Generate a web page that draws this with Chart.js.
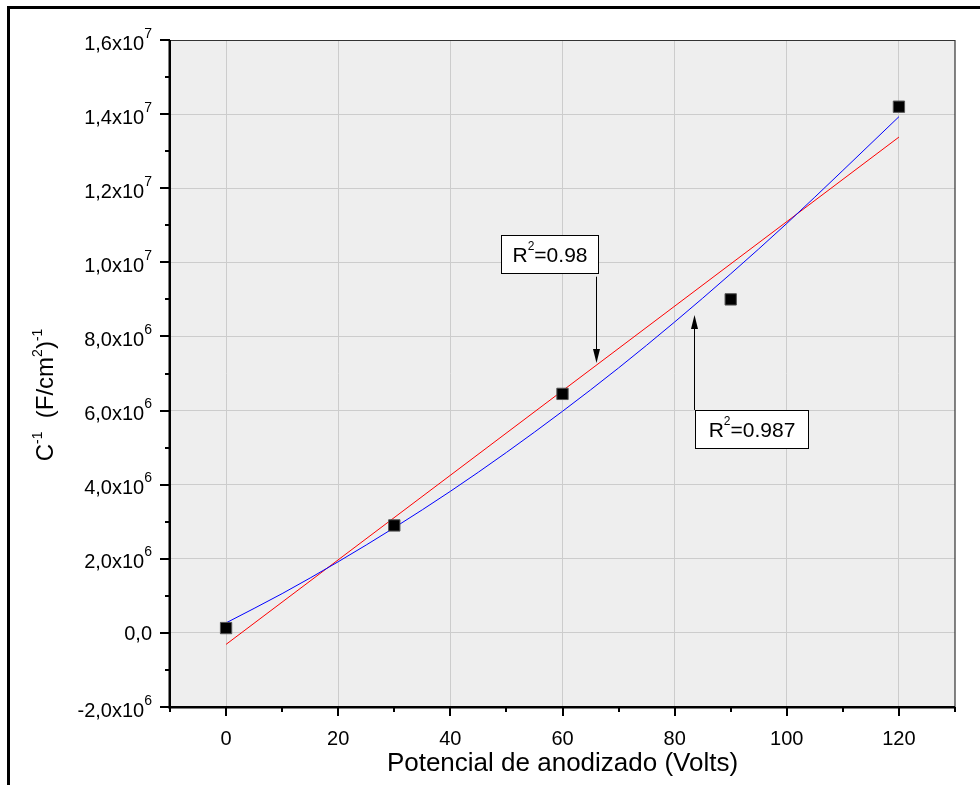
<!DOCTYPE html>
<html lang="es">
<head>
    <meta charset="UTF-8">
    <title>C-1 vs Potencial de anodizado</title>
    <script src="https://cdn.jsdelivr.net/npm/chart.js"></script>
    <style>
        html, body { margin: 0; padding: 0; background: #fff; }
        #wrap { width: 980px; height: 785px; }
    </style>
</head>
<body>
<div id="wrap"><canvas id="chart" width="980" height="785"></canvas></div>
<script>
// datos medidos
const volts = [0, 30, 60, 90, 120];
const invCap = [1.3e5, 2.9e6, 6.45e6, 9.0e6, 1.42e7];

// ajuste lineal (R2=0.98)
const linX = [0, 120];
const linY = [-3.1e5, 1.338e7];

// ajuste cuadratico (R2=0.987)
const quadX = [0, 10, 20, 30, 40, 50, 60, 70, 80, 90, 100, 110, 120];
const quadY = [2.7e5, 1.06e6, 1.92e6, 2.84e6, 3.82e6, 4.87e6, 5.98e6, 7.15e6, 8.39e6, 9.69e6, 1.105e7, 1.248e7, 1.393e7];

// etiquetas de los ejes
const xTickValues = [0, 20, 40, 60, 80, 100, 120];
const xTickLabels = ['0', '20', '40', '60', '80', '100', '120'];
const yTickValues = [-2e6, 0, 2e6, 4e6, 6e6, 8e6, 1e7, 1.2e7, 1.4e7, 1.6e7];
const yTickLabels = [['-2,0x10', '6'], ['0,0', ''], ['2,0x10', '6'], ['4,0x10', '6'], ['6,0x10', '6'],
                     ['8,0x10', '6'], ['1,0x10', '7'], ['1,2x10', '7'], ['1,4x10', '7'], ['1,6x10', '7']];

const FONT = '"Liberation Sans", Arial, sans-serif';

// texto con superindices: parts = [[texto, esSup], ...]
function richWidth(ctx, parts, big, small) {
    let w = 0;
    parts.forEach(([t, sup]) => {
        ctx.font = (sup ? small : big) + 'px ' + FONT;
        w += ctx.measureText(t).width;
    });
    return w;
}
function drawRich(ctx, parts, x, y, big, small, rise) {
    let cx = x;
    ctx.textAlign = 'left';
    ctx.textBaseline = 'alphabetic';
    parts.forEach(([t, sup]) => {
        ctx.font = (sup ? small : big) + 'px ' + FONT;
        ctx.fillText(t, cx, sup ? y - rise : y);
        cx += ctx.measureText(t).width;
    });
}

function arrow(ctx, x, y1, y2) {
    const dir = y2 > y1 ? 1 : -1;
    ctx.beginPath();
    ctx.moveTo(x, y1);
    ctx.lineTo(x, y2 - dir * 12);
    ctx.stroke();
    ctx.beginPath();
    ctx.moveTo(x, y2);
    ctx.lineTo(x - 3.5, y2 - dir * 14);
    ctx.lineTo(x + 3.5, y2 - dir * 14);
    ctx.closePath();
    ctx.fill();
}

// cajas de R2 (coordenadas de datos)
const notes = [
    { parts: [['R', false], ['2', true], ['=0.98', false]], x1: 48.98, x2: 66.38, y1: 1.0729e7, y2: 9.72e6,
      ax: 65.99, ay1: 9.612e6, ay2: 7.283e6 },
    { parts: [['R', false], ['2', true], ['=0.987', false]], x1: 83.63, x2: 103.73, y1: 6.015e6, y2: 4.997e6,
      ax: 83.45, ay1: 6.015e6, ay2: 8.579e6 }
];

const decor = {
    id: 'decor',
    beforeDraw(chart) {
        const { ctx, chartArea: a } = chart;
        ctx.save();
        ctx.fillStyle = '#fff';
        ctx.fillRect(0, 0, chart.width, chart.height);
        // marco exterior
        ctx.fillStyle = '#000';
        ctx.fillRect(7, 6, 3, chart.height);
        ctx.fillRect(7, 6, chart.width, 3);
        // fondo del area
        ctx.fillStyle = '#eeeeee';
        ctx.fillRect(a.left, a.top, a.right - a.left, a.bottom - a.top);
        ctx.restore();
    },
    afterDraw(chart) {
        const { ctx, chartArea: a } = chart;
        const xs = chart.scales.x, ys = chart.scales.y;
        ctx.save();

        // bordes
        ctx.strokeStyle = '#333';
        ctx.lineWidth = 1.2;
        ctx.beginPath();
        ctx.moveTo(a.left, a.top + 0.5); ctx.lineTo(a.right, a.top + 0.5);
        ctx.moveTo(a.right, a.top); ctx.lineTo(a.right, a.bottom);
        ctx.stroke();
        ctx.fillStyle = '#000';
        ctx.fillRect(a.left - 1.5, a.top, 2.5, a.bottom - a.top + 1.5);
        ctx.fillRect(a.left - 1.5, a.bottom - 1, a.right - a.left + 1.5, 2.5);

        // marcas eje y
        for (let v = -2e6; v <= 1.6e7; v += 1e6) {
            const py = Math.round(ys.getPixelForValue(v));
            const major = Math.round(v / 1e6) % 2 === 0;
            const len = major ? 10 : 5;
            ctx.fillRect(a.left - len, py - 1, len, 2);
        }
        // marcas eje x
        for (let v = -10; v <= 130; v += 10) {
            const px = Math.round(xs.getPixelForValue(v));
            const major = v % 20 === 0;
            const len = major ? 9 : 5;
            ctx.fillRect(px - 1, a.bottom, 2, len);
        }

        // etiquetas eje y
        ctx.fillStyle = '#000';
        yTickValues.forEach((v, i) => {
            const [main, sup] = yTickLabels[i];
            const parts = [[main, false]];
            if (sup) parts.push([sup, true]);
            const w = richWidth(ctx, parts, 20, 14);
            const py = ys.getPixelForValue(v);
            drawRich(ctx, parts, 152 - w, py + (sup ? 9.5 : 7), 20, 14, 12);
        });

        // etiquetas eje x
        ctx.font = '20px ' + FONT;
        ctx.textAlign = 'center';
        ctx.textBaseline = 'alphabetic';
        xTickValues.forEach((v, i) => {
            ctx.fillText(xTickLabels[i], xs.getPixelForValue(v), 745);
        });

        // titulo eje x
        ctx.font = '26px ' + FONT;
        ctx.fillText('Potencial de anodizado (Volts)', (a.left + a.right) / 2, 771);

        // titulo eje y
        const yParts = [['C', false], ['-1', true], ['  (F/cm', false], ['2', true], [')', false], ['-1', true]];
        const yw = richWidth(ctx, yParts, 24, 14);
        ctx.save();
        ctx.translate(53, 395 + yw / 2);
        ctx.rotate(-Math.PI / 2);
        drawRich(ctx, yParts, 0, 0, 24, 14, 11);
        ctx.restore();

        // anotaciones R2
        ctx.lineWidth = 1;
        ctx.strokeStyle = '#000';
        notes.forEach(n => {
            const x1 = Math.round(xs.getPixelForValue(n.x1)) + 0.5;
            const x2 = Math.round(xs.getPixelForValue(n.x2)) + 0.5;
            const y1 = Math.round(ys.getPixelForValue(n.y1)) + 0.5;
            const y2 = Math.round(ys.getPixelForValue(n.y2)) + 0.5;
            const ax = Math.round(xs.getPixelForValue(n.ax)) + 0.5;
            arrow(ctx, ax, ys.getPixelForValue(n.ay1), ys.getPixelForValue(n.ay2));
            ctx.fillStyle = '#fff';
            ctx.fillRect(x1, y1, x2 - x1, y2 - y1);
            ctx.strokeRect(x1, y1, x2 - x1, y2 - y1);
            ctx.fillStyle = '#000';
            const w = richWidth(ctx, n.parts, 21, 12);
            drawRich(ctx, n.parts, (x1 + x2) / 2 - w / 2, (y1 + y2) / 2 + 7.5, 21, 12, 12);
        });

        ctx.restore();
    }
};

new Chart(document.getElementById('chart').getContext('2d'), {
    type: 'scatter',
    data: {
        datasets: [
            {
                label: 'Lineal',
                data: linX.map((x, i) => ({ x: x, y: linY[i] })),
                showLine: true,
                borderColor: '#ff0000',
                borderWidth: 1,
                pointRadius: 0,
                order: 2
            },
            {
                label: 'Cuadratico',
                data: quadX.map((x, i) => ({ x: x, y: quadY[i] })),
                showLine: true,
                borderColor: '#0000ff',
                borderWidth: 1,
                pointRadius: 0,
                tension: 0.4,
                cubicInterpolationMode: 'monotone',
                order: 1
            },
            {
                label: 'C-1',
                data: volts.map((x, i) => ({ x: x, y: invCap[i] })),
                pointStyle: 'rect',
                pointRadius: 8,
                backgroundColor: '#000',
                borderColor: '#555',
                borderWidth: 1,
                order: 0
            }
        ]
    },
    options: {
        responsive: false,
        animation: false,
        layout: { padding: { top: 40, right: 25, left: 0, bottom: 0 } },
        plugins: {
            legend: { display: false },
            tooltip: { enabled: false }
        },
        scales: {
            x: {
                type: 'linear',
                min: -10,
                max: 130,
                ticks: { display: false, stepSize: 10 },
                border: { display: false },
                grid: {
                    drawTicks: false,
                    color: c => (c.tick && c.tick.value % 20 === 0) ? '#cccccc' : 'rgba(0,0,0,0)',
                    lineWidth: 1
                },
                afterFit: s => { s.height = 78; }
            },
            y: {
                type: 'linear',
                min: -2e6,
                max: 1.6e7,
                ticks: { display: false, stepSize: 1e6 },
                border: { display: false },
                grid: {
                    drawTicks: false,
                    color: c => (c.tick && Math.round(c.tick.value / 1e6) % 2 === 0) ? '#cccccc' : 'rgba(0,0,0,0)',
                    lineWidth: 1
                },
                afterFit: s => { s.width = 170; }
            }
        }
    },
    plugins: [decor]
});
</script>
</body>
</html>
